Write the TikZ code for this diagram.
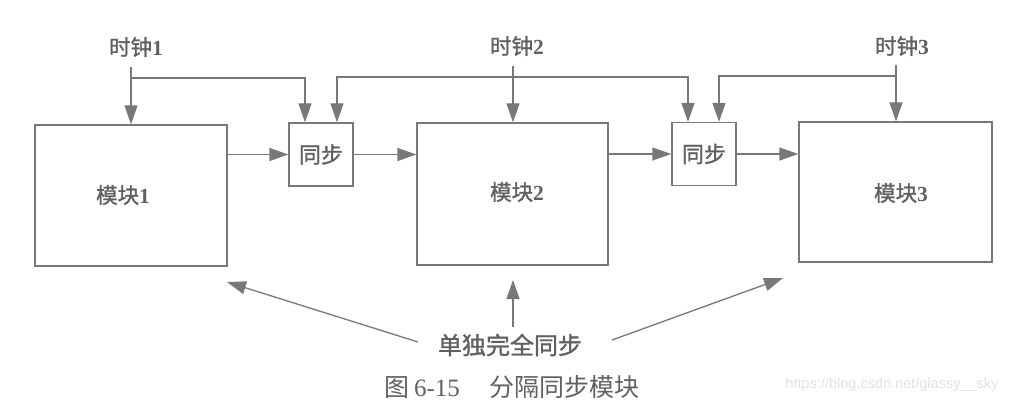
\documentclass[tikz,border=0pt]{standalone}
\usepackage{fontspec}
\setmainfont{Liberation Serif}
\newfontfamily\cjk[FakeBold=1.2]{Noto Sans CJK SC}
\newfontfamily\cjkr{Noto Sans CJK SC}
\newfontfamily\wmfont{Liberation Sans}
\usetikzlibrary{arrows.meta}
\definecolor{ln}{RGB}{120,120,120}
\definecolor{tx}{RGB}{96,96,96}
\definecolor{wm}{RGB}{226,226,226}
\begin{document}
\begin{tikzpicture}[x=1pt,y=-1pt,
  line width=1.4pt,
  modbox/.style={draw=ln, rectangle, inner sep=0pt, text=tx},
  syncbox/.style={draw=ln, rectangle, inner sep=0pt, text=tx,
    minimum width=64pt, minimum height=63pt,
    font=\fontsize{22pt}{26pt}\selectfont},
  lbl/.style={text=tx, inner sep=0pt, font=\fontsize{21.5pt}{26pt}\selectfont},
  arr/.style={draw=ln, -{Triangle[length=19pt,width=13pt]}},
]
\useasboundingbox (0,0) rectangle (1018,404);
\fill[white] (0,0) rectangle (1018,404);

% modules
\node[modbox, minimum width=192pt, minimum height=141pt] (m1) at (131,195.5) {};
\node[modbox, minimum width=191pt, minimum height=142pt] (m2) at (512.5,194) {};
\node[modbox, minimum width=193pt, minimum height=140pt] (m3) at (895.5,192) {};
\node[lbl] (m1t) at (123,195) {{\cjk 模块}\textbf{1}};
\node[lbl] (m2t) at (517,192) {{\cjk 模块}\textbf{2}};
\node[lbl] (m3t) at (901,193) {{\cjk 模块}\textbf{3}};

% sync boxes
\node[syncbox] (s1) at (321,154.5) {\cjk 同步};
\node[syncbox] (s2) at (704,154) {\cjk 同步};

% clock labels
\node[lbl] (c1) at (136,47) {{\cjk 时钟}\textbf{1}};
\node[lbl] (c2) at (517,46) {{\cjk 时钟}\textbf{2}};
\node[lbl] (c3) at (902,46) {{\cjk 时钟}\textbf{3}};

% clock lines
\coordinate (k1) at (131,67);
\coordinate (j1) at (131,78);
\coordinate (k2) at (513,66);
\coordinate (j2) at (513,77);
\coordinate (k3) at (896,65);
\coordinate (j3) at (896,76);

\draw[arr] (k1) -- (k1 |- m1.north);
\draw[arr] (j1) -| ([xshift=-16pt]s1.north);
\draw[arr] (k2) -- (k2 |- m2.north);
\draw[arr] (j2) -| ([xshift=16pt]s1.north);
\draw[arr] (j2) -| ([xshift=-16pt]s2.north);
\draw[arr] (k3) -- (k3 |- m3.north);
\draw[arr] (j3) -| ([xshift=15pt]s2.north);

% data path
\draw[arr] (s1.west -| m1.east) -- (s1.west);
\draw[arr] (s1.east) -- (s1.east -| m2.west);
\draw[arr] (s2.west -| m2.east) -- (s2.west);
\draw[arr] (s2.east) -- (s2.east -| m3.west);

% bottom
\node[lbl, font=\fontsize{24pt}{28pt}\selectfont] (b) at (510,345) {\cjk 单独完全同步};
\coordinate (t1) at (418,342);
\coordinate (p1) at (227,282);
\coordinate (t2) at (513,327);
\coordinate (p2) at (513,280);
\coordinate (t3) at (612,340);
\coordinate (p3) at (783,278);
\draw[arr, line width=1.3pt] (t1) -- (p1);
\draw[arr, line width=1.3pt] (t2) -- (p2);
\draw[arr, line width=1.3pt] (t3) -- (p3);

% caption
\node[text=tx, inner sep=0pt, font=\fontsize{25pt}{30pt}\selectfont] (cap) at (512,387)
  {{\cjkr 图}\hspace{5pt}6-15\hspace{30pt}{\cjkr 分隔同步模块}};

% watermark
\node[text=wm, inner sep=0pt, font=\wmfont\fontsize{14.5pt}{17pt}\selectfont] (wmk) at (892,385)
  {https://blog.csdn.net/glassy\_\_sky};
\end{tikzpicture}
\end{document}
